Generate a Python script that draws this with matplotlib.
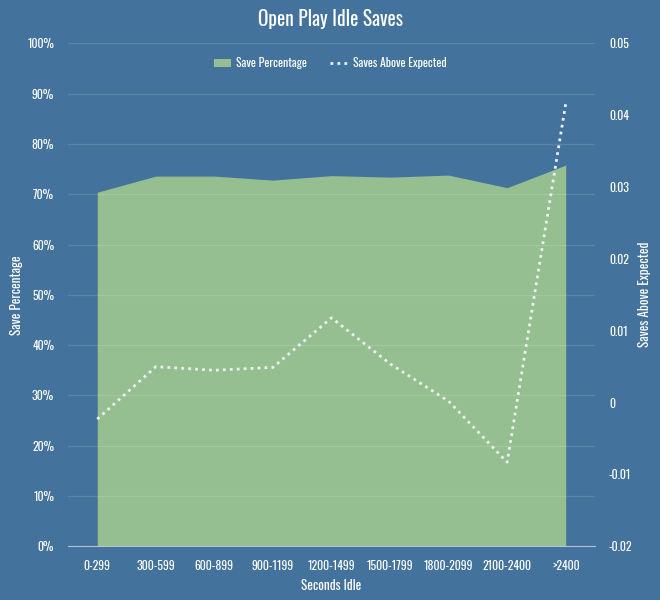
import matplotlib
matplotlib.use("Agg")
import matplotlib.pyplot as plt
from matplotlib.patches import Patch
from matplotlib.lines import Line2D
from matplotlib.ticker import FuncFormatter, MultipleLocator

categories = ["0-299", "300-599", "600-899", "900-1199", "1200-1499",
              "1500-1799", "1800-2099", "2100-2400", ">2400"]
save_pct = [70.4, 73.6, 73.6, 72.8, 73.7, 73.4, 73.8, 71.3, 75.8]
saves_above_expected = [-0.0023, 0.0050, 0.0045, 0.0049, 0.0118,
                        0.0054, 0.0002, -0.0083, 0.0416]

BG = "#43729c"
GREEN = "#95bf90"
LINE = "#eef0f4"
FONT = ["Oswald", "DejaVu Sans"]
plt.rcParams["font.family"] = FONT

fig = plt.figure(figsize=(6.6, 6.0), dpi=100, facecolor=BG)
ax = fig.add_axes([0.103, 0.0895, 0.7985, 0.8383])
ax.set_facecolor(BG)
x = list(range(len(categories)))

ax.fill_between(x, 0, save_pct, color=GREEN, linewidth=0, zorder=1)
ax.set_xlim(-0.5, len(categories) - 0.5)
ax.set_ylim(0, 100)
ax.yaxis.set_major_locator(MultipleLocator(10))
ax.yaxis.set_major_formatter(FuncFormatter(lambda v, p: f"{v:.0f}%"))
ax.grid(axis="y", color="white", alpha=0.13, linewidth=1, zorder=2)
ax.set_axisbelow(False)
ax.set_xticks(x)
ax.set_xticklabels(categories)
for s in ["top", "right", "left"]:
    ax.spines[s].set_visible(False)
ax.spines["bottom"].set_color("#b4c2cf")
ax.spines["bottom"].set_zorder(3)
ax.tick_params(axis="both", length=0, colors="white", labelsize=8.5)
ax.tick_params(axis="x", pad=10)
ax.tick_params(axis="y", pad=10)
ax.set_xlabel("Seconds Idle", color="white", fontsize=9.5, labelpad=5)
ax.set_ylabel("Save Percentage", color="white", fontsize=9.5, labelpad=3)

ax2 = ax.twinx()
ax2.plot(x, saves_above_expected, color=LINE, linewidth=2,
         linestyle=(0, (1, 1.5)), zorder=4)
ax2.set_ylim(-0.02, 0.05)
ax2.yaxis.set_major_locator(MultipleLocator(0.01))
ax2.yaxis.set_major_formatter(FuncFormatter(lambda v, p: "0" if abs(v) < 1e-9 else f"{v:.2f}"))
for s in ["top", "right", "left", "bottom"]:
    ax2.spines[s].set_visible(False)
ax2.tick_params(axis="y", length=0, colors="white", labelsize=8.5, pad=10)
ax2.set_ylabel("Saves Above Expected", color="white", fontsize=9.5, labelpad=4)

fig.text(0.5, 0.968, "Open Play Idle Saves", color="white", fontsize=14,
         ha="center", va="center")

handles = [Patch(facecolor=GREEN, edgecolor="none"),
           Line2D([0], [0], color=LINE, linewidth=2, linestyle=(0, (1, 1.5)))]
leg = fig.legend(handles, ["Save Percentage", "Saves Above Expected"],
                 loc="center", bbox_to_anchor=(0.5, 0.895), ncol=2, frameon=False,
                 fontsize=8.5, labelcolor="white", handlelength=1.5,
                 handletextpad=0.4, columnspacing=2.0)

fig.savefig("out.png", dpi=100, facecolor=BG)
